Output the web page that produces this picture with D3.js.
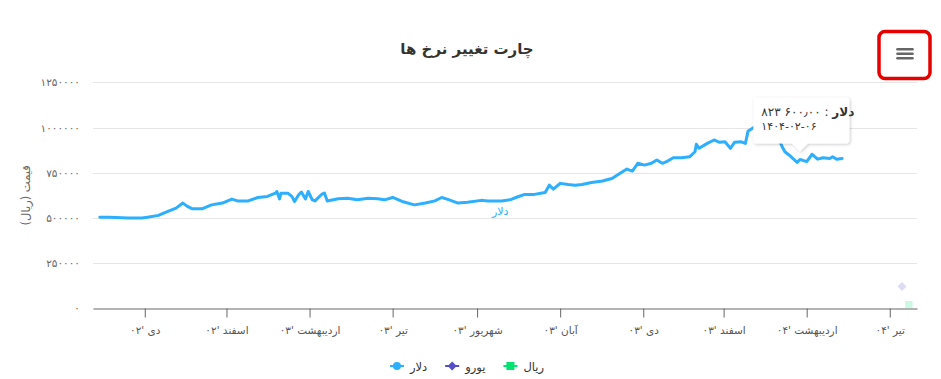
<!DOCTYPE html>
<html><head><meta charset="utf-8">
<script src="https://cdn.jsdelivr.net/npm/d3@7"></script>
<style>
html,body{margin:0;padding:0;background:#fff;}
svg{display:block;font-family:"DejaVu Sans",sans-serif;}
</style></head><body>
<svg id="chart" width="941" height="379"></svg>
<script>
// ---------- data ----------
const dollarDates = ["2023-11-29","2023-12-06","2023-12-20","2023-12-30","2024-01-03","2024-01-11","2024-01-18","2024-01-24","2024-01-29","2024-02-01","2024-02-05","2024-02-12","2024-02-19","2024-02-27","2024-03-05","2024-03-09","2024-03-17","2024-03-24","2024-03-31","2024-04-06","2024-04-07","2024-04-09","2024-04-10","2024-04-15","2024-04-18","2024-04-20","2024-04-23","2024-04-25","2024-04-28","2024-04-30","2024-05-03","2024-05-05","2024-05-10","2024-05-12","2024-05-14","2024-05-22","2024-05-29","2024-06-05","2024-06-13","2024-06-20","2024-06-25","2024-07-01","2024-07-08","2024-07-17","2024-07-25","2024-08-01","2024-08-06","2024-08-10","2024-08-18","2024-08-25","2024-09-04","2024-09-09","2024-09-19","2024-09-26","2024-10-01","2024-10-06","2024-10-13","2024-10-21","2024-10-24","2024-10-27","2024-11-01","2024-11-07","2024-11-12","2024-11-17","2024-11-24","2024-12-02","2024-12-09","2024-12-13","2024-12-20","2024-12-24","2024-12-28","2025-01-02","2025-01-07","2025-01-11","2025-01-15","2025-01-18","2025-01-23","2025-01-29","2025-02-04","2025-02-08","2025-02-09","2025-02-11","2025-02-17","2025-02-22","2025-02-26","2025-03-02","2025-03-06","2025-03-09","2025-03-14","2025-03-17","2025-03-19","2025-03-22","2025-03-24","2025-03-29","2025-04-04","2025-04-09","2025-04-13","2025-04-15","2025-04-18","2025-04-24","2025-04-26","2025-05-01","2025-05-05","2025-05-09","2025-05-13","2025-05-18","2025-05-20","2025-05-23","2025-05-27"];
const dollarValues = [504000,503000,500000,499000,504000,514000,536000,554000,582000,565000,550000,550000,572000,582000,604000,594000,594000,613000,619000,637000,646000,605000,637000,637000,619000,591000,628000,643000,605000,646000,600000,594000,631000,637000,594000,606000,609000,600000,609000,606000,600000,613000,591000,572000,582000,594000,613000,604000,582000,587000,597000,594000,593000,602000,617000,630000,630000,641000,681000,659000,691000,685000,681000,685000,696000,704000,718000,737000,770000,759000,802000,792000,802000,820000,802000,811000,833000,833000,838000,866000,907000,885000,912000,931000,918000,921000,885000,918000,921000,912000,981000,995000,1004000,1030000,1020000,960000,894000,866000,848000,807000,823600,811000,852000,825000,833000,829000,838000,824000,829000];
const euroDates = ["2025-07-10"];
const euroValues = [120000];
const rialDates = ["2025-07-15"];
const rialValues = [20000];

const seriesNames = ["دلار","یورو","ریال"];
const seriesColors = ["#2caffe","#544fc5","#00e272"];

const yTicks = [0,250000,500000,750000,1000000,1250000];
const yTickLabels = ["۰","۲۵۰۰۰۰","۵۰۰۰۰۰","۷۵۰۰۰۰","۱۰۰۰۰۰۰","۱۲۵۰۰۰۰"];
const xTickDates = ["2024-01-01","2024-03-01","2024-05-01","2024-07-01","2024-09-01","2024-11-01","2025-01-01","2025-03-01","2025-05-01","2025-07-01"];
const xTickLabels = ["دی '۰۲","اسفند '۰۲","اردیبهشت '۰۳","تیر '۰۳","شهریور '۰۳","آبان '۰۳","دی '۰۳","اسفند '۰۳","اردیبهشت '۰۴","تیر '۰۴"];
const xDomain = ["2023-11-24","2025-07-21"];

const titleText = "چارت تغییر نرخ ها";
const yAxisTitle = "قیمت (ریال)";
const seriesLabelDate = "2024-09-18";
const seriesLabelValue = 537000;
const tooltipDate = "2025-04-26";
const tooltipValue = 823600;
const tooltipValueText = "۸۲۳\u00A0۶۰۰٫۰۰";
const tooltipDateText = "۱۴۰۴-۰۲-۰۶";

// ---------- layout ----------
const plot = {left: 93, right: 917, top: 82.3, bottom: 308.3};
const parse = d3.utcParse("%Y-%m-%d");
const svg = d3.select("#chart");

const x = d3.scaleUtc().domain(xDomain.map(parse)).range([plot.left, plot.right]);
const y = d3.scaleLinear().domain([0, 1250000]).range([plot.bottom, plot.top]);

const defs = svg.append("defs");
const f = defs.append("filter").attr("id","shadow").attr("x","-20%").attr("y","-20%").attr("width","140%").attr("height","150%");
f.append("feDropShadow").attr("dx",1).attr("dy",1).attr("stdDeviation",1.6).attr("flood-color","#000").attr("flood-opacity",0.22);
defs.append("clipPath").attr("id","clip").append("rect")
  .attr("x",plot.left).attr("y",plot.top-10).attr("width",plot.right-plot.left).attr("height",plot.bottom-plot.top+10);

const diamond = s => `M0,${-s}L${s},0L0,${s}L${-s},0Z`;

// title
svg.append("text").attr("x", 467).attr("y", 54).attr("text-anchor","middle").attr("direction","rtl")
  .attr("font-size", 15).attr("font-weight","bold").attr("fill","#333").text(titleText);

// gridlines
svg.append("g").selectAll("line").data(yTicks.slice(1)).join("line")
  .attr("x1", plot.left).attr("x2", plot.right)
  .attr("y1", d => Math.round(y(d))+0.5).attr("y2", d => Math.round(y(d))+0.5)
  .attr("stroke","#e6e6e6").attr("stroke-width",1);

// y labels
svg.append("g").selectAll("text").data(yTicks).join("text")
  .attr("x", 80).attr("y", d => y(d)+4).attr("text-anchor","end")
  .attr("font-size", 10.5).attr("fill","#666").text((d,i) => yTickLabels[i]);

// y title
svg.append("text").attr("transform", `translate(30,${(plot.top+plot.bottom)/2}) rotate(-90)`)
  .attr("text-anchor","middle").attr("direction","rtl").attr("font-size", 11.5).attr("fill","#666").text(yAxisTitle);

// x axis
const xAxis = d3.axisBottom(x).tickValues(xTickDates.map(parse))
  .tickFormat((d,i) => xTickLabels[i]).tickSize(9).tickSizeOuter(0);
const gx = svg.append("g").attr("transform", `translate(0,${Math.round(plot.bottom)+0.5})`).call(xAxis);
gx.select(".domain").attr("stroke","#666");
gx.selectAll(".tick line").attr("stroke","#666");
gx.selectAll(".tick text").attr("y", 25).attr("dy", 0).attr("direction","rtl")
  .attr("font-size", 10.5).attr("fill","#555").attr("font-family","DejaVu Sans");

// dollar line
const dollar = dollarDates.map((d,i) => ({date: parse(d), value: dollarValues[i]}));
const line = d3.line().x(d => x(d.date)).y(d => y(d.value)).curve(d3.curveLinear);
svg.append("path").datum(dollar).attr("clip-path","url(#clip)")
  .attr("d", line).attr("fill","none").attr("stroke", seriesColors[0])
  .attr("stroke-width", 3).attr("stroke-linejoin","round").attr("stroke-linecap","round");

// euro / rial (dimmed, inactive)
const euro = euroDates.map((d,i) => ({date: parse(d), value: euroValues[i]}));
const rial = rialDates.map((d,i) => ({date: parse(d), value: rialValues[i]}));
svg.append("g").selectAll("path").data(euro).join("path")
  .attr("transform", d => `translate(${x(d.date)},${y(d.value)})`)
  .attr("d", diamond(4.5)).attr("fill", seriesColors[1]).attr("opacity", 0.2);
svg.append("g").attr("clip-path","url(#clip)").selectAll("rect").data(rial).join("rect")
  .attr("x", d => x(d.date)-3.7).attr("y", d => y(d.value)-3.7).attr("width",7.4).attr("height",7.4)
  .attr("fill", seriesColors[2]).attr("opacity", 0.2);

// series label on line
svg.append("text").attr("x", x(parse(seriesLabelDate))).attr("y", y(seriesLabelValue)+4)
  .attr("text-anchor","middle").attr("direction","rtl").attr("font-size", 11)
  .attr("fill", seriesColors[0]).text(seriesNames[0]);

// legend
const legendY = 366;
const lg = svg.append("g");
const items = seriesNames.map((n,i) => {
  const t = lg.append("text").attr("direction","rtl").attr("font-size", 11.5)
    .attr("fill","#333").attr("text-anchor","middle").text(n);
  return {t, w: t.node().getComputedTextLength(), i};
});
const symW = 14, gap = 6, itemGap = 18;
const total = d3.sum(items, d => symW + gap + d.w) + itemGap*(items.length-1);
let cx = 467 - total/2;
items.forEach(it => {
  const sx = cx + symW/2;
  lg.append("line").attr("x1", cx).attr("x2", cx+symW).attr("y1", legendY).attr("y2", legendY)
    .attr("stroke", seriesColors[it.i]).attr("stroke-width", 2);
  if (it.i === 0) lg.append("circle").attr("cx", sx).attr("cy", legendY).attr("r", 4).attr("fill", seriesColors[0]);
  if (it.i === 1) lg.append("path").attr("transform",`translate(${sx},${legendY})`).attr("d", diamond(4.5)).attr("fill", seriesColors[1]);
  if (it.i === 2) lg.append("rect").attr("x", sx-4).attr("y", legendY-4).attr("width", 8).attr("height", 8).attr("fill", seriesColors[2]);
  it.t.attr("x", cx + symW + gap + it.w/2).attr("y", legendY + 4.5);
  cx += symW + gap + it.w + itemGap;
});

// tooltip
const ax = x(parse(tooltipDate)), ay = y(tooltipValue);
const bw = 96, bh = 46, r = 3;
const bl = ax - 46.5, bb = ay - 16, bt = bb - bh, br = bl + bw;
const tip = `M${bl+r},${bt} H${br-r} Q${br},${bt} ${br},${bt+r} V${bb-r} Q${br},${bb} ${br-r},${bb}
 H${ax+8} L${ax},${bb+8} L${ax-8},${bb} H${bl+r} Q${bl},${bb} ${bl},${bb-r} V${bt+r} Q${bl},${bt} ${bl+r},${bt} Z`;
const tg = svg.append("g");
tg.append("path").attr("d", tip).attr("fill","#fff").attr("filter","url(#shadow)");
const l1 = tg.append("text").attr("direction","rtl").attr("text-anchor","middle").attr("font-size",12).attr("fill","#333");
l1.append("tspan").attr("font-weight","bold").text(seriesNames[0]);
l1.append("tspan").text(" : " + tooltipValueText);
const w1 = l1.node().getComputedTextLength();
l1.attr("x", bl + 8 + w1/2).attr("y", bt + 19);
const l2 = tg.append("text").attr("direction","rtl").attr("text-anchor","middle").attr("font-size",11).attr("fill","#333").text(tooltipDateText);
const w2 = l2.node().getComputedTextLength();
l2.attr("x", bl + 8 + w2/2).attr("y", bt + 33);

// menu button with red highlight
const mb = svg.append("g");
mb.append("rect").attr("x", 879).attr("y", 31.5).attr("width", 51).attr("height", 47).attr("rx", 6)
  .attr("fill","none").attr("stroke","#e60000").attr("stroke-width", 3.5);
[49.3, 53.8, 58.3].forEach(yy => mb.append("line").attr("x1", 897.5).attr("x2", 912.5).attr("y1", yy).attr("y2", yy)
  .attr("stroke","#666").attr("stroke-width", 2.6).attr("stroke-linecap","round"));
</script>
</body></html>
